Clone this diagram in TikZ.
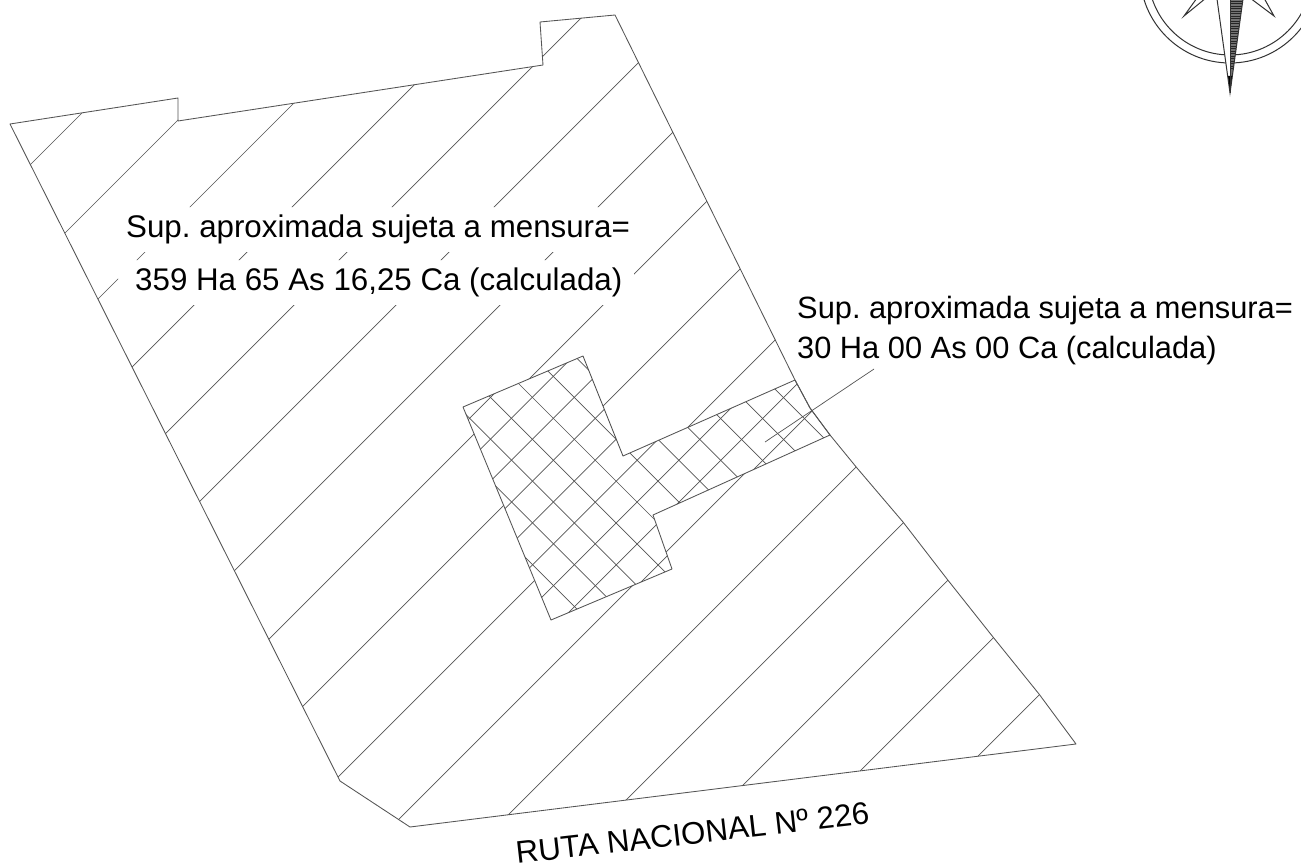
\documentclass[tikz,border=0pt]{standalone}
\usepackage{fontspec}
\setmainfont{Liberation Sans}
\definecolor{lin}{gray}{0.33}
\tikzset{
  plan/.style={draw=lin,line width=0.85pt,line join=round},
  hatchline/.style={draw=lin,line width=0.7pt},
  label/.style={font=\fontsize{30.8}{36}\selectfont\frenchspacing,inner sep=0pt,anchor=base west,text=black},
  biglabel/.style={label,font=\fontsize{31.3}{36}\selectfont\frenchspacing},
  star/.style={draw=black!80,line width=1pt,fill=white,line join=miter}
}
\newcommand{\outlinepath}{(10,124) -- (178,98) -- (178,121) -- (543,65) -- (540,22) -- (615,15) -- (795,380) -- (810,408) -- (830,435) -- (857,468) -- (903,522) -- (947,579) -- (993,637) -- (1039,694) -- (1076,744) -- (410,827) -- (340,781) -- cycle}
\newcommand{\regionpath}{(463,407) -- (583,356) -- (623,456) -- (795,380) -- (810,408) -- (830,435) -- (653,515) -- (672,569) -- (551,620) -- cycle}
\begin{document}
\begin{tikzpicture}[x=1pt,y=-1pt]
\useasboundingbox (0,0) rectangle (1301,867);
\fill[white] (0,0) rectangle (1301,867);
% broad hatch: follows the outline, stops at the small plot and round the two text lines
\begin{scope}[even odd rule]
\clip \outlinepath \regionpath (118,207) rectangle (645,252) (118,260) rectangle (634,305);
\foreach \c in {195,298,397,499,599,701,805,908,1009,1115,1218,1323,1426,1528,1631,1734}
  \draw[hatchline] (\c,0) -- (0,\c);
\end{scope}
% cross hatch of the small plot
\begin{scope}
\clip \regionpath;
\foreach \k in {-4,...,7} {
  \pgfmathsetmacro{\c}{1013.5+41.9*\k}
  \draw[hatchline] (\c,0) -- (0,\c);
}
\foreach \k in {-6,...,7} {
  \pgfmathsetmacro{\d}{135+41.8*\k}
  \draw[hatchline] (\d+100,100) -- (\d+800,800);
}
\end{scope}
\draw[plan] \outlinepath;
\draw[plan] \regionpath;
% texts
\node[biglabel] (areaA) at (126,237) {Sup. aproximada sujeta a mensura=};
\node[biglabel] (areaB) at (135,290) {359 Ha 65 As 16,25 Ca (calculada)};
\node[label] (plotA) at (797,318) {Sup. aproximada sujeta a mensura=};
\node[label] (plotB) at (797,358) {30 Ha 00 As 00 Ca (calculada)};
\node[biglabel,rotate=6.5] (road) at (517,864) {RUTA NACIONAL Nº 226};
% leader
\coordinate (leadA) at (874,369);
\coordinate (leadB) at (765,442);
\draw[hatchline] (leadA) -- (leadB);
% compass
\begin{scope}
\clip (1100,0) rectangle (1301,100);
\draw[draw=black!80,line width=1pt] (1230,-27) circle (82);
\draw[draw=black!80,line width=1pt] (1230,-27) circle (90);
\draw[star] (1206,-2) -- (1184,16) -- (1197,-2);
\draw[star] (1250,-2) -- (1274,16) -- (1264,-2);
\fill[white] (1217,-1) -- (1230,93) -- (1243,-1) -- cycle;
\fill[black!55] (1230,-1) -- (1243,-1) -- (1230,93) -- cycle;
\foreach \y in {1,3.5,...,70} {
  \pgfmathsetmacro{\xr}{1243-13*\y/93}
  \draw[black!85,line width=0.9pt] (1230,\y) -- (\xr,\y);
}
\fill[black] (1227.8,76) -- (1232.4,76) -- (1230,93) -- cycle;
\draw[black!80,line width=1pt] (1217,-1) -- (1230,93) -- (1243,-1);
\draw[black!80,line width=1pt] (1230,-1) -- (1230,93);
\end{scope}
\end{tikzpicture}
\end{document}
